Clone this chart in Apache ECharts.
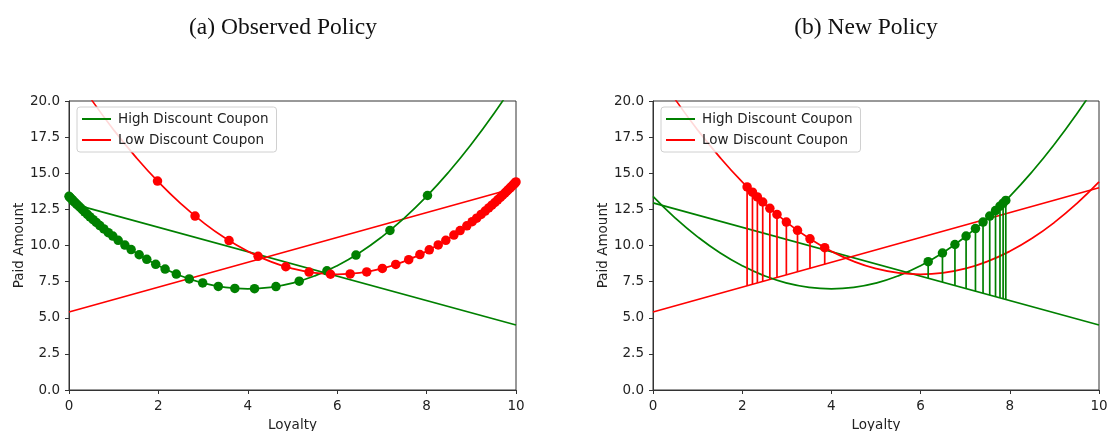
<!DOCTYPE html>
<html>
<head>
<meta charset="utf-8">
<script src="https://cdn.jsdelivr.net/npm/echarts@6/dist/echarts.min.js"></script>
<style>html,body{margin:0;padding:0;background:#fff}#c{width:1108px;height:431px}</style>
</head>
<body>
<div id="c"></div>
<script>
// ---- Data ----
const titles = ['(a) Observed Policy', '(b) New Policy'];
const seriesNames = ['High Discount Coupon', 'Low Discount Coupon'];
const xTicks = [0, 2, 4, 6, 8, 10];
const yTicks = [0, 2.5, 5, 7.5, 10, 12.5, 15, 17.5, 20];

// curves
const curveX = [0,0.5,1,1.5,2,2.5,3,3.5,4,4.5,5,5.5,6,6.5,7,7.5,8,8.5,9,9.5,10];
const highCurveY = [13.4,11.9,10.6,9.5,8.6,7.9,7.4,7.1,7.0,7.1,7.4,7.9,8.6,9.5,10.6,11.9,13.4,15.1,17.0,19.1,21.4];
const lowCurveY  = [22.4,20.1,18.0,16.1,14.4,12.9,11.6,10.5,9.6,8.9,8.4,8.1,8.0,8.1,8.4,8.9,9.6,10.5,11.6,12.9,14.4];
// straight lines (endpoints at x=0 and x=10)
const lineX = [0, 10];
const highLineY = [12.95, 4.5];
const lowLineY = [5.4, 14.0];

// (a) observed points
const obsHighX = [0.00,0.02,0.04,0.07,0.10,0.13,0.17,0.21,0.25,0.30,0.35,0.41,0.47,0.54,0.61,0.69,0.78,0.88,0.98,1.10,1.25,1.39,1.57,1.74,1.94,2.15,2.40,2.69,2.99,3.34,3.71,4.15,4.63,5.15,5.77,6.42,7.18,8.02];
const obsHighY = [13.40,13.34,13.27,13.18,13.08,12.99,12.87,12.75,12.63,12.48,12.33,12.16,11.98,11.79,11.60,11.38,11.15,10.89,10.65,10.36,10.03,9.72,9.36,9.04,8.70,8.37,8.02,7.69,7.41,7.17,7.03,7.01,7.16,7.53,8.25,9.34,11.04,13.46];
const obsLowX = [1.98,2.82,3.58,4.23,4.85,5.37,5.85,6.29,6.66,7.01,7.31,7.60,7.85,8.06,8.26,8.43,8.61,8.75,8.90,9.02,9.12,9.22,9.31,9.39,9.46,9.53,9.59,9.65,9.70,9.75,9.79,9.83,9.87,9.90,9.93,9.96,9.98,10.00];
const obsLowY = [14.46,12.04,10.34,9.25,8.53,8.16,8.01,8.03,8.17,8.41,8.69,9.02,9.37,9.70,10.04,10.36,10.72,11.03,11.36,11.65,11.89,12.15,12.38,12.60,12.79,12.98,13.16,13.33,13.48,13.63,13.75,13.87,13.99,14.08,14.18,14.27,14.34,14.40];

// (b) new policy points with stems down to the straight line
const newLowX = [2.11,2.23,2.34,2.46,2.62,2.78,2.99,3.24,3.52,3.85];
const newLowTop = [14.05,13.69,13.36,13.01,12.57,12.15,11.62,11.05,10.46,9.85];
const newLowBottom = [7.21,7.32,7.41,7.52,7.65,7.79,7.97,8.19,8.43,8.71];
const newHighX = [6.17,6.49,6.77,7.02,7.23,7.40,7.55,7.68,7.78,7.85,7.91];
const newHighTop = [8.88,9.48,10.07,10.65,11.17,11.62,12.04,12.42,12.72,12.93,13.12];
const newHighBottom = [7.74,7.47,7.23,7.02,6.84,6.70,6.57,6.46,6.38,6.32,6.27];

// ---- Build chart ----
const GREEN = '#008000', RED = '#ff0000';
const FONT = 'DejaVu Sans';
const FS = 13.5;
const LW = 1.7;
const zip = (xs, ys) => xs.map((x, i) => [x, ys[i]]);
const zip3 = (xs, a, b) => xs.map((x, i) => [x, a[i], b[i]]);

const grids = [
  {left: 69, right: 592, top: 101, bottom: 41},
  {left: 653, right: 9, top: 101, bottom: 41}
];
const xAxes = [], yAxes = [], series = [], legends = [];
grids.forEach((g, i) => {
  g.show = true; g.borderColor = '#333'; g.borderWidth = 1; g.containLabel = false;
  g.outerBoundsMode = 'none';
  xAxes.push({
    type: 'value', gridIndex: i, min: xTicks[0], max: xTicks[xTicks.length - 1], interval: 2,
    name: 'Loyalty', nameLocation: 'middle', nameGap: 28,
    nameTextStyle: {fontFamily: FONT, fontSize: FS, color: '#222'},
    axisLine: {show: true, lineStyle: {color: '#333', width: 1}},
    axisTick: {show: true, length: 4, lineStyle: {color: '#333'}},
    axisLabel: {fontFamily: FONT, fontSize: FS, color: '#222', margin: 9},
    splitLine: {show: false}
  });
  yAxes.push({
    type: 'value', gridIndex: i, min: yTicks[0], max: yTicks[yTicks.length - 1], interval: 2.5,
    name: 'Paid Amount', nameLocation: 'middle', nameGap: 42,
    nameTextStyle: {fontFamily: FONT, fontSize: FS, color: '#222'},
    axisLine: {show: true, lineStyle: {color: '#333', width: 1}},
    axisTick: {show: true, length: 4, lineStyle: {color: '#333'}},
    axisLabel: {fontFamily: FONT, fontSize: FS, color: '#222', margin: 9, formatter: v => v.toFixed(1)},
    splitLine: {show: false}
  });
  const base = {xAxisIndex: i, yAxisIndex: i, animation: false, silent: true};
  series.push(Object.assign({}, base, {
    name: seriesNames[0], type: 'line', data: zip(lineX, highLineY), showSymbol: false,
    lineStyle: {color: GREEN, width: LW}, itemStyle: {color: GREEN}, z: 2
  }));
  series.push(Object.assign({}, base, {
    name: seriesNames[1], type: 'line', data: zip(lineX, lowLineY), showSymbol: false,
    lineStyle: {color: RED, width: LW}, itemStyle: {color: RED}, z: 2
  }));
  series.push(Object.assign({}, base, {
    name: seriesNames[0], type: 'line', data: zip(curveX, highCurveY), showSymbol: false, smooth: 0.5,
    lineStyle: {color: GREEN, width: LW}, itemStyle: {color: GREEN}, clip: true, z: 2
  }));
  series.push(Object.assign({}, base, {
    name: seriesNames[1], type: 'line', data: zip(curveX, lowCurveY), showSymbol: false, smooth: 0.5,
    lineStyle: {color: RED, width: LW}, itemStyle: {color: RED}, clip: true, z: 2
  }));
  legends.push({
    data: seriesNames.map(n => ({name: n, icon: 'rect'})),
    orient: 'vertical', left: g.left + 8, top: 107,
    itemWidth: 29, itemHeight: 2, itemGap: 7,
    padding: [5, 8, 5, 5],
    borderColor: '#d0d0d0', borderWidth: 1, borderRadius: 3,
    backgroundColor: 'rgba(255,255,255,0.85)',
    textStyle: {fontFamily: FONT, fontSize: FS, color: '#222', padding: [0, 0, 0, 2]},
    selectedMode: false
  });
});

// (a) dots
series.push({name: 'obsHigh', type: 'scatter', xAxisIndex: 0, yAxisIndex: 0, data: zip(obsHighX, obsHighY),
  symbolSize: 9.5, itemStyle: {color: GREEN, opacity: 1}, z: 3, animation: false, silent: true});
series.push({name: 'obsLow', type: 'scatter', xAxisIndex: 0, yAxisIndex: 0, data: zip(obsLowX, obsLowY),
  symbolSize: 9.5, itemStyle: {color: RED, opacity: 1}, z: 3, animation: false, silent: true});

// (b) stems and dots
function stemSeries(name, xs, tops, bottoms, color) {
  return {
    name: name, type: 'custom', xAxisIndex: 1, yAxisIndex: 1, data: zip3(xs, tops, bottoms),
    animation: false, silent: true, z: 3,
    renderItem: (params, api) => {
      const p1 = api.coord([api.value(0), api.value(1)]);
      const p2 = api.coord([api.value(0), api.value(2)]);
      return {type: 'line', shape: {x1: p1[0], y1: p1[1], x2: p2[0], y2: p2[1]},
        style: {stroke: color, lineWidth: LW}};
    }
  };
}
series.push(stemSeries('newLowStem', newLowX, newLowTop, newLowBottom, RED));
series.push(stemSeries('newHighStem', newHighX, newHighTop, newHighBottom, GREEN));
series.push({name: 'newLow', type: 'scatter', xAxisIndex: 1, yAxisIndex: 1, data: zip(newLowX, newLowTop),
  symbolSize: 9.5, itemStyle: {color: RED, opacity: 1}, z: 4, animation: false, silent: true});
series.push({name: 'newHigh', type: 'scatter', xAxisIndex: 1, yAxisIndex: 1, data: zip(newHighX, newHighTop),
  symbolSize: 9.5, itemStyle: {color: GREEN, opacity: 1}, z: 4, animation: false, silent: true});

const chart = echarts.init(document.getElementById('c'), null, {renderer: 'canvas'});
chart.setOption({
  animation: false,
  backgroundColor: '#fff',
  grid: grids, xAxis: xAxes, yAxis: yAxes, series: series, legend: legends,
  graphic: titles.map((t, i) => ({
    type: 'text',
    x: [283, 866][i], y: 28,
    style: {text: t, fontFamily: 'Liberation Serif', fontSize: 23.5, fill: '#111',
      align: 'center', verticalAlign: 'middle'}
  }))
});
</script>
</body>
</html>
